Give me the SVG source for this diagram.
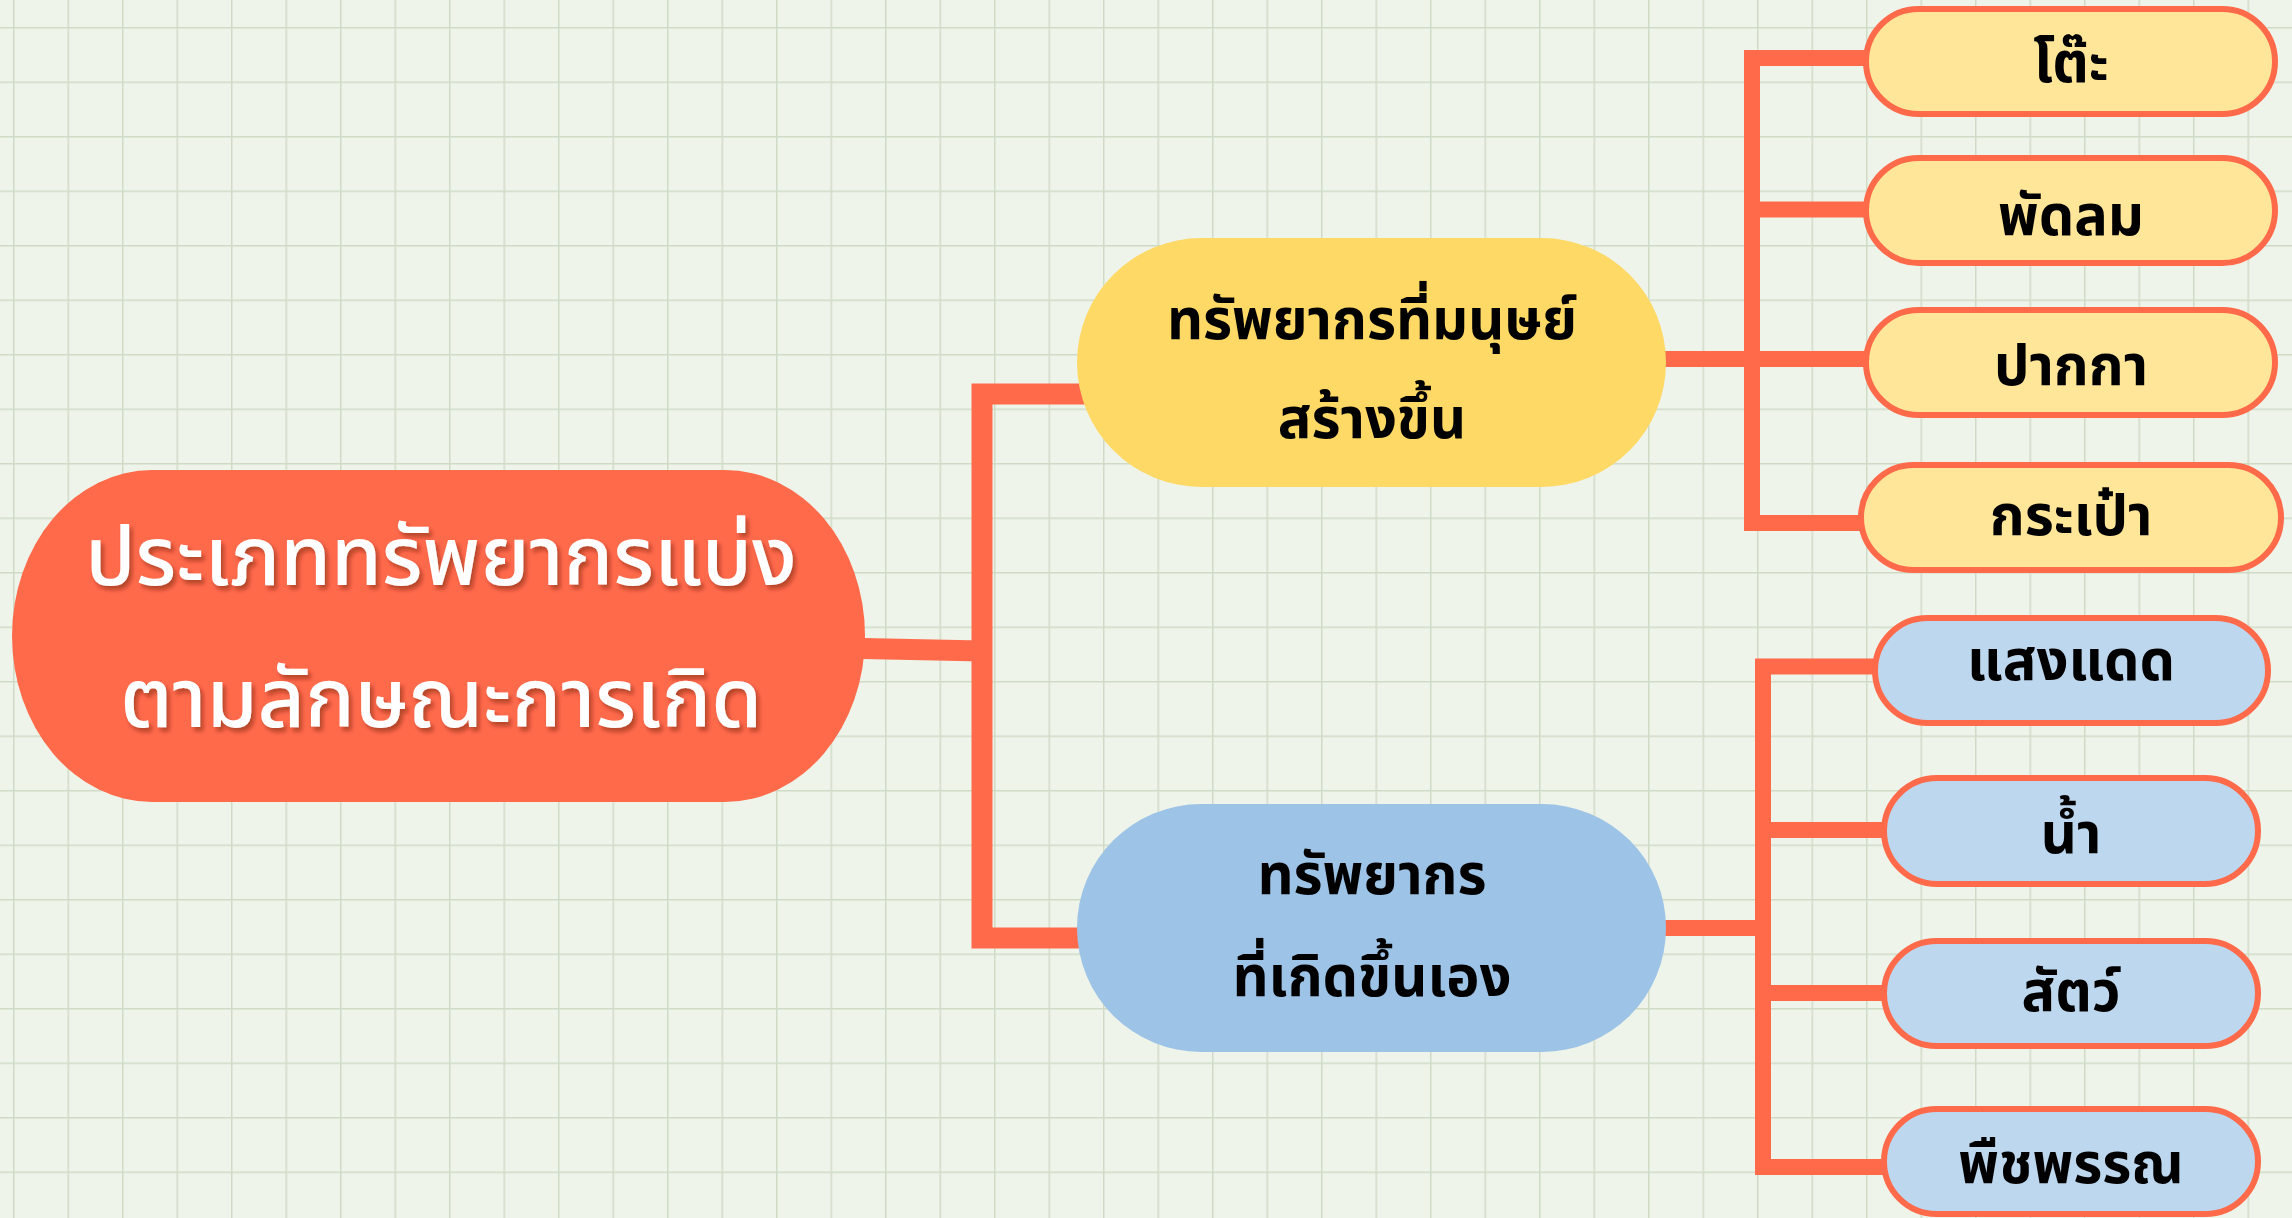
<svg xmlns="http://www.w3.org/2000/svg" width="2292" height="1218" viewBox="0 0 2292 1218">
<defs>
<pattern id="grid" patternUnits="userSpaceOnUse" x="13" y="27" width="54.5" height="54.5">
<path d="M0 0 H54.5 M0 0 V54.5" stroke="#D0DBC6" stroke-width="3" fill="none"/>
</pattern>
<filter id="shadow" x="-5%" y="-20%" width="110%" height="140%">
<feDropShadow dx="3" dy="4" stdDeviation="2" flood-color="#5a1a0a" flood-opacity="0.45"/>
</filter>
</defs>
<style>
.conn{fill:none;stroke:#FF6A4B;stroke-linejoin:miter;stroke-linecap:butt}
.leafY{fill:#FFE699;stroke:#FF6A4B;stroke-width:6}
.leafB{fill:#BDD7EE;stroke:#FF6A4B;stroke-width:6}
.t{font-family:"Noto Sans Thai","Noto Sans","DejaVu Sans",sans-serif;font-weight:bold;fill:#000;text-anchor:middle}
.leaf{font-size:56px}
.mid{font-size:56px}
.root{font-family:"Noto Sans Thai","Noto Sans","DejaVu Sans",sans-serif;font-size:82px;fill:#fff;text-anchor:middle;font-weight:500}
</style>
<rect width="2292" height="1218" fill="#EEF4EA"/>
<rect width="2292" height="1218" fill="url(#grid)"/>
<g id="connectors">
<path class="conn" stroke-width="21" d="M840 648 L982 651"/>
<path class="conn" stroke-width="21" d="M1110 394 H982 V938 H1110"/>
<path class="conn" stroke-width="16" d="M1640 359 H1900"/>
<path class="conn" stroke-width="16" d="M1900 58 H1752 V523 H1900 M1752 209.5 H1900"/>
<path class="conn" stroke-width="16" d="M1640 928 H1763"/>
<path class="conn" stroke-width="16" d="M1900 666.5 H1763 V1167 H1900 M1763 830 H1900 M1763 993 H1900"/>
</g>
<g id="root">
<rect x="12" y="470" width="853" height="332" rx="140" ry="166" fill="#FF6A4B"/>
<g filter="url(#shadow)">
<text class="root" x="441" y="585">ประเภททรัพยากรแบ่ง</text>
<text class="root" x="441" y="727">ตามลักษณะการเกิด</text>
</g>
</g>
<g id="made">
<rect x="1077" y="238" width="589" height="249" rx="124.5" fill="#FFD966"/>
<text class="t mid" x="1372" y="339">ทรัพยากรที่มนุษย์</text>
<text class="t mid" x="1372" y="438">สร้างขึ้น</text>
</g>
<g id="natural">
<rect x="1077" y="804" width="589" height="248" rx="124" fill="#9DC3E6"/>
<text class="t mid" x="1372" y="894">ทรัพยากร</text>
<text class="t mid" x="1372" y="996">ที่เกิดขึ้นเอง</text>
</g>
<g id="leaf-table">
<rect class="leafY" x="1866" y="9" width="409" height="105" rx="52.5"/>
<text class="t leaf" x="2071" y="82">โต๊ะ</text>
</g>
<g id="leaf-fan">
<rect class="leafY" x="1866" y="158" width="409" height="105" rx="52.5"/>
<text class="t leaf" x="2071" y="235">พัดลม</text>
</g>
<g id="leaf-pen">
<rect class="leafY" x="1866" y="310" width="409" height="105" rx="52.5"/>
<text class="t leaf" x="2071" y="385">ปากกา</text>
</g>
<g id="leaf-bag">
<rect class="leafY" x="1861" y="465" width="420" height="105" rx="52.5"/>
<text class="t leaf" x="2071" y="535">กระเป๋า</text>
</g>
<g id="leaf-sun">
<rect class="leafB" x="1875" y="618" width="393" height="105" rx="52.5"/>
<text class="t leaf" x="2071" y="680">แสงแดด</text>
</g>
<g id="leaf-water">
<rect class="leafB" x="1884" y="778" width="374" height="106" rx="53"/>
<text class="t leaf" x="2071" y="853">น้ำ</text>
</g>
<g id="leaf-animal">
<rect class="leafB" x="1884" y="941" width="374" height="105" rx="52.5"/>
<text class="t leaf" x="2071" y="1011">สัตว์</text>
</g>
<g id="leaf-plant">
<rect class="leafB" x="1884" y="1109" width="374" height="105" rx="52.5"/>
<text class="t leaf" x="2071" y="1183">พืชพรรณ</text>
</g>
</svg>
